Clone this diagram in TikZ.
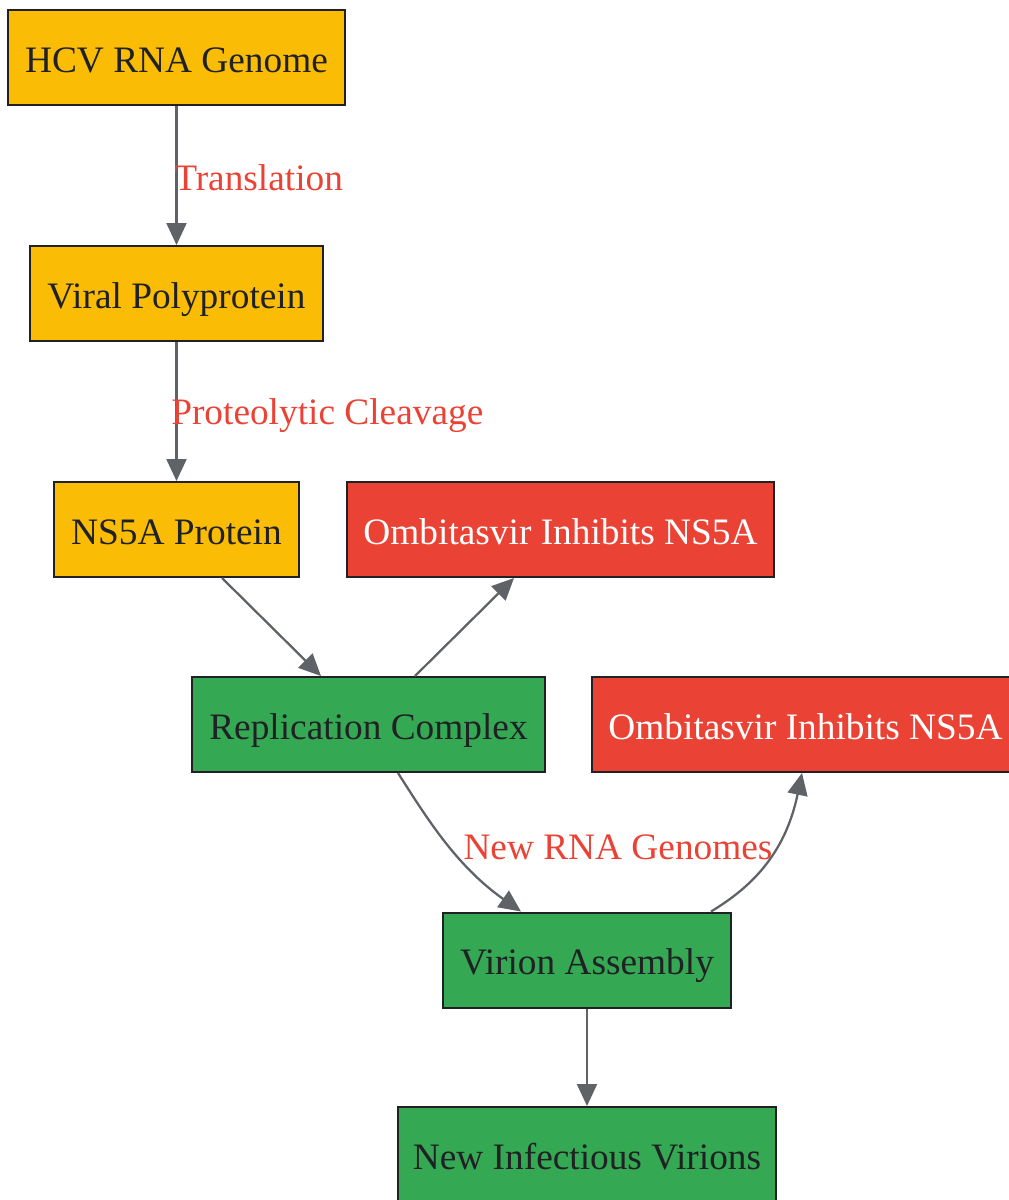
\documentclass[tikz,border=0pt]{standalone}
\usepackage{fontspec}
\setmainfont{Liberation Serif}
\usetikzlibrary{arrows.meta}
\definecolor{cyel}{HTML}{FBBC05}
\definecolor{cred}{HTML}{EA4335}
\definecolor{cgrn}{HTML}{34A853}
\definecolor{cedge}{HTML}{5F6368}
\definecolor{ctxt}{HTML}{202124}
\definecolor{cbord}{HTML}{202124}
\tikzset{
  box/.style={draw=cbord, line width=1.5pt, minimum height=71.25pt, inner sep=0pt,
    font=\fontsize{28pt}{30pt}\selectfont, text=ctxt, text height=24pt, text depth=2pt},
  ybox/.style={box, fill=cyel},
  rbox/.style={box, fill=cred, text=white},
  gbox/.style={box, fill=cgrn},
  edge/.style={draw=cedge, line width=1.7pt, -{Triangle[length=16.5pt,width=15pt]}},
  elabel/.style={text=cred, font=\fontsize{28pt}{30pt}\selectfont, inner sep=0pt}
}
\begin{document}
\begin{tikzpicture}[x=0.75pt,y=-0.75pt]
\useasboundingbox (0,0) rectangle (1009,1200);
\node[ybox, minimum width=252.75pt] (hcv) at (176.5,57.5) {HCV RNA Genome};
\node[ybox, minimum width=219.75pt] (poly) at (176.5,293.5) {Viral Polyprotein};
\node[ybox, minimum width=183.75pt] (ns5a) at (176.5,529.5) {NS5A Protein};
\node[rbox, minimum width=320.25pt] (omb1) at (560.5,529.5) {Ombitasvir Inhibits NS5A};
\node[gbox, minimum width=264.75pt] (rep) at (368.5,724.5) {Replication Complex};
\node[rbox, minimum width=320.25pt] (omb2) at (805.5,724.5) {Ombitasvir Inhibits NS5A};
\node[gbox, minimum width=216pt] (vir) at (587,960) {Virion Assembly};
\node[gbox, minimum width=283.5pt] (new) at (587,1154.5) {New Infectious Virions};

\draw[edge] (hcv.south) -- (poly.north);
\node[elabel, anchor=west] (l1) at (174,178) {Translation};
\draw[edge] (poly.south) -- (ns5a.north);
\node[elabel, anchor=west] (l2) at (171,416) {Proteolytic Cleavage};
\draw[edge] (ns5a.south -| 222,0) -- (rep.north -| 321,0);
\draw[edge] (rep.north -| 415,0) -- (omb1.south -| 514,0);
\draw[edge] (rep.south -| 398,0) .. controls (425,815) and (455,865) .. (vir.north -| 521,0);
\node[elabel] (l3) at (618,847) {New RNA Genomes};
\draw[edge] (vir.north -| 711,0) .. controls (750,888) and (785,855) .. (omb2.south -| 802,0);
\draw[edge] (vir.south) -- (new.north);
\end{tikzpicture}
\end{document}
